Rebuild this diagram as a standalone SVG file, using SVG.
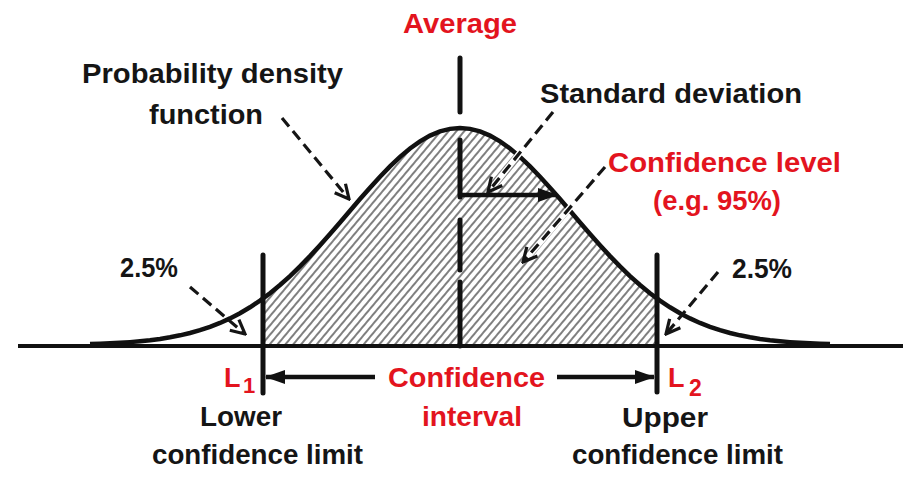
<svg xmlns="http://www.w3.org/2000/svg" width="903" height="478" viewBox="0 0 903 478">
<style>
text{font-family:"Liberation Sans",Arial,sans-serif;font-weight:bold;}
.blk{fill:#151515;font-size:28px;}
.red{fill:#e3141e;font-size:28px;}
.dash{fill:none;stroke:#151515;stroke-width:3.2;stroke-dasharray:11 6;}
.halo{fill:none;stroke:#fff;stroke-width:6;}
.solid{fill:none;stroke:#111;stroke-width:4.5;}
.vline{fill:none;stroke:#111;stroke-width:5;stroke-linecap:round;}
</style>
<defs>
<pattern id="hatch" width="6" height="10" patternUnits="userSpaceOnUse" patternTransform="rotate(40)">
<line x1="2" y1="-1" x2="2" y2="11" stroke="#3a3a3a" stroke-width="1.3"/>
</pattern>
<marker id="vee" viewBox="0 0 18 18" refX="16" refY="9" markerUnits="userSpaceOnUse" markerWidth="18" markerHeight="18" orient="auto">
<path d="M2,2 L16,9 L2,16" fill="none" stroke="#151515" stroke-width="3.2"/>
</marker>
<marker id="tri" viewBox="0 0 20 16" refX="19" refY="8" markerUnits="userSpaceOnUse" markerWidth="20" markerHeight="16" orient="auto">
<path d="M0,1 L20,8 L0,15 Z" fill="#111"/>
</marker>
</defs>
<rect width="903" height="478" fill="#fff"/>

<g id="distribution">
<path id="area" d="M263,345 L263,298.5 L270,293.2 L280,285.01 L290,276.07 L300,266.44 L310,256.14 L320,245.3 L330,234.03 L340,222.46 L350,210.75 L360,199.08 L370,187.65 L380,176.67 L390,166.34 L400,156.89 L410,148.49 L420,141.35 L430,135.61 L440,131.42 L450,128.86 L460,128 L470,128.86 L480,131.42 L490,135.61 L500,141.35 L510,148.49 L520,156.89 L530,166.34 L540,176.67 L550,187.65 L560,199.08 L570,210.75 L580,222.46 L590,234.03 L600,245.3 L610,256.14 L620,266.44 L630,276.07 L640,285.01 L650,293.2 L657,298.5 L657,345 Z" fill="url(#hatch)"/>
<line id="axis" x1="18" y1="346" x2="903" y2="346" stroke="#111" stroke-width="4"/>
<path id="curve" class="solid" d="M90,344.05 L100,343.73 L110,343.32 L120,342.79 L130,342.12 L140,341.27 L150,340.21 L160,338.9 L170,337.29 L180,335.33 L190,332.97 L200,330.16 L210,326.83 L220,322.93 L230,318.41 L240,313.2 L250,307.29 L260,300.63 L270,293.2 L280,285.01 L290,276.07 L300,266.44 L310,256.14 L320,245.3 L330,234.03 L340,222.46 L350,210.75 L360,199.08 L370,187.65 L380,176.67 L390,166.34 L400,156.89 L410,148.49 L420,141.35 L430,135.61 L440,131.42 L450,128.86 L460,128 L470,128.86 L480,131.42 L490,135.61 L500,141.35 L510,148.49 L520,156.89 L530,166.34 L540,176.67 L550,187.65 L560,199.08 L570,210.75 L580,222.46 L590,234.03 L600,245.3 L610,256.14 L620,266.44 L630,276.07 L640,285.01 L650,293.2 L660,300.63 L670,307.29 L680,313.2 L690,318.41 L700,322.93 L710,326.83 L720,330.16 L730,332.97 L740,335.33 L750,337.29 L760,338.9 L770,340.21 L780,341.27 L790,342.12 L800,342.79 L810,343.32 L820,343.73 L830,344.05"/>
<g id="mean-line" class="vline" stroke-linecap="butt">
<line x1="460" y1="58" x2="460" y2="112"/>
<line x1="460" y1="140" x2="460" y2="197"/>
<line x1="460" y1="220" x2="460" y2="270"/>
<line x1="460" y1="282" x2="460" y2="346"/>
</g>
<line id="L1-line" class="vline" x1="263" y1="255" x2="263" y2="393"/>
<line id="L2-line" class="vline" x1="657" y1="255" x2="657" y2="392"/>
</g>

<g id="connectors">
<line class="solid" x1="460" y1="195" x2="557" y2="195" marker-end="url(#tri)"/>
<line class="solid" x1="375" y1="377" x2="266" y2="377" marker-end="url(#tri)"/>
<line class="solid" x1="557" y1="377" x2="654" y2="377" marker-end="url(#tri)"/>
<line class="dash" x1="282" y1="118" x2="349" y2="199" marker-end="url(#vee)"/>
<line class="halo" x1="535" y1="134" x2="490" y2="190"/>
<line class="dash" x1="553" y1="112" x2="488" y2="192" marker-end="url(#vee)"/>
<line class="halo" x1="585" y1="190" x2="526" y2="259"/>
<line class="dash" x1="605" y1="167" x2="523" y2="262" marker-end="url(#vee)"/>
<line class="dash" x1="190" y1="287" x2="245" y2="334" marker-end="url(#vee)"/>
<line class="dash" x1="718" y1="272" x2="666" y2="334" marker-end="url(#vee)"/>
</g>

<g id="label-average"><text class="red" x="403" y="33" textLength="114" lengthAdjust="spacingAndGlyphs">Average</text></g>
<g id="label-pdf">
<text class="blk" x="82" y="83" textLength="261" lengthAdjust="spacingAndGlyphs">Probability density</text>
<text class="blk" x="149" y="124" textLength="114" lengthAdjust="spacingAndGlyphs">function</text>
</g>
<g id="label-sd"><text class="blk" x="540" y="103" textLength="262" lengthAdjust="spacingAndGlyphs">Standard deviation</text></g>
<g id="label-level">
<text class="red" x="608" y="172" textLength="233" lengthAdjust="spacingAndGlyphs">Confidence level</text>
<text class="red" x="653" y="210" textLength="128" lengthAdjust="spacingAndGlyphs">(e.g. 95%)</text>
</g>
<g id="label-left-tail"><text class="blk" x="120" y="277" textLength="58" lengthAdjust="spacingAndGlyphs">2.5%</text></g>
<g id="label-right-tail"><text class="blk" x="732" y="278" textLength="60" lengthAdjust="spacingAndGlyphs">2.5%</text></g>
<g id="label-L1">
<text class="red" x="224" y="387" style="font-size:27px">L</text>
<text class="red" x="243" y="393" style="font-size:22px">1</text>
</g>
<g id="label-L2">
<text class="red" x="668" y="387" style="font-size:27px">L</text>
<text class="red" x="689" y="396" style="font-size:23px">2</text>
</g>
<g id="label-interval">
<text class="red" x="388" y="387" textLength="157" lengthAdjust="spacingAndGlyphs">Confidence</text>
<text class="red" x="422" y="426" textLength="100" lengthAdjust="spacingAndGlyphs">interval</text>
</g>
<g id="label-lower">
<text class="blk" x="200" y="426" textLength="82" lengthAdjust="spacingAndGlyphs">Lower</text>
<text class="blk" x="152" y="464" textLength="211" lengthAdjust="spacingAndGlyphs">confidence limit</text>
</g>
<g id="label-upper">
<text class="blk" x="622" y="427" textLength="86" lengthAdjust="spacingAndGlyphs">Upper</text>
<text class="blk" x="572" y="464" textLength="211" lengthAdjust="spacingAndGlyphs">confidence limit</text>
</g>
</svg>
